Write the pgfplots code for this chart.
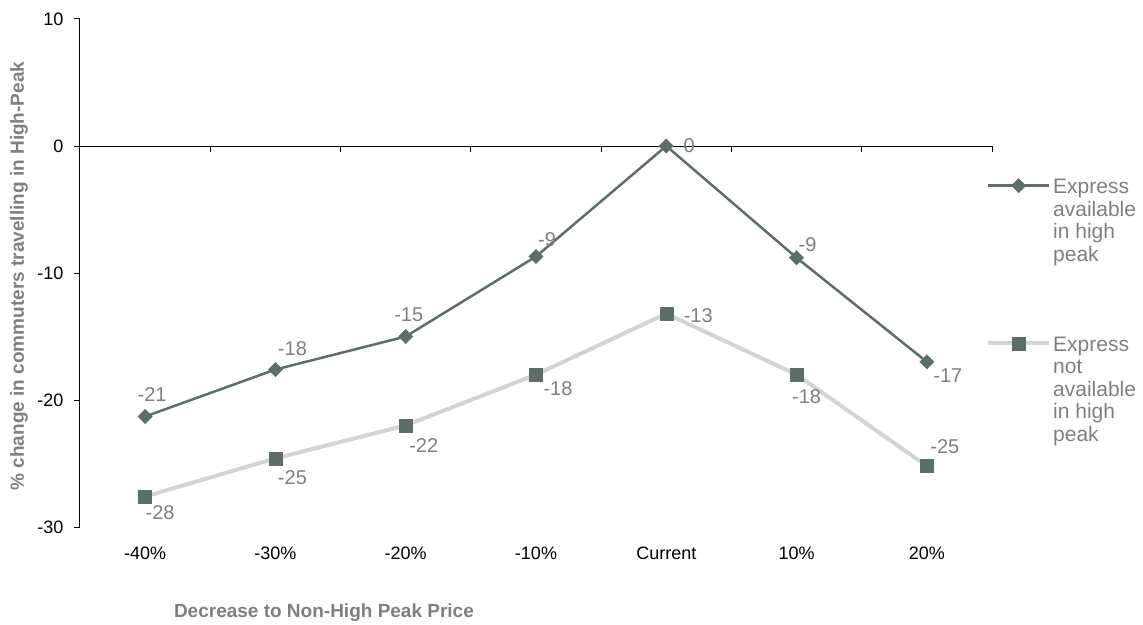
\documentclass[border=0pt]{standalone}
\usepackage{fontspec}
\setmainfont{Liberation Sans}
\usepackage{pgfplots}
\pgfplotsset{compat=1.18}
\usepackage{pgfplotstable}
\pgfplotsset{/pgf/number format/assume math mode=true}

\definecolor{darkline}{HTML}{5E6E66}
\definecolor{lightline}{HTML}{D2D5D3}
\definecolor{labelgray}{HTML}{7F7F7F}

% x = price scenario index, y = % change, dx/dy = label offset (pt)
\pgfplotstableread{
x y dx dy
0 -21.3 7 22
1 -17.6 17 21
2 -15.0 3 22
3 -8.7 11 17
4 0 23 0
5 -8.8 11 13
6 -17.0 21 -14
}\withexpress

\pgfplotstableread{
x y dx dy
0 -27.6 15 -16
1 -24.6 17 -19
2 -22.0 18 -20
3 -18.0 22 -14
4 -13.2 32 -2
5 -18.0 10 -22
6 -25.2 18 19
}\withoutexpress

\begin{document}
\begin{tikzpicture}
\begin{axis}[
  scale only axis, width=912pt, height=508pt,
  xmin=-0.5, xmax=6.5, ymin=-30, ymax=10,
  clip=false,
  axis y line*=left, axis x line*=bottom,
  x axis line style={draw=none},
  y axis line style={black, line width=1pt},
  xtick={0,...,6},
  xticklabels={-40\%,-30\%,-20\%,-10\%,Current,10\%,20\%},
  major x tick style={draw=none},
  ytick={-30,-20,-10,0,10},
  tick align=outside,
  major y tick style={black, line width=1pt},
  major tick length=6pt,
  xticklabel shift=10pt,
  yticklabel shift=7pt,
  tick label style={font=\fontsize{18}{21}\selectfont, text=black},
  ylabel={\% change in commuters travelling in High-Peak},
  ylabel style={font=\bfseries\fontsize{19}{22}\selectfont, text=labelgray,
    at={(axis description cs:-0.0669,0.494)}, anchor=center},
  xlabel={Decrease to Non-High Peak Price},
  xlabel style={font=\bfseries\fontsize{19}{22}\selectfont, text=labelgray,
    at={(axis description cs:0.2675,-0.1693)}, anchor=center},
  legend style={draw=none, fill=none, inner sep=0pt,
    at={(axis description cs:0.9934,0.689)}, anchor=north west,
    row sep=70pt, column sep=0pt,
    cells={anchor=north west, align=left, text=labelgray,
      font=\fontsize{21}{22.5}\selectfont}},
  legend image code/.code={\draw[#1, mark repeat=2, mark phase=2]
    plot coordinates {(0pt,-8.5pt) (30.5pt,-8.5pt) (61pt,-8.5pt)};},
  nodes near coords={\pgfmathprintnumber[fixed,precision=0]{\pgfplotspointmeta}},
  point meta=y,
]

% zero line with category separators
\draw[black, line width=1pt] (axis cs:-0.5,0) -- (axis cs:6.5,0);
\pgfplotsinvokeforeach{0.5,1.5,2.5,3.5,4.5,5.5,6.5}{
  \draw[black, line width=1pt] (axis cs:#1,0) -- ++(0pt,-6pt);
}

\addplot[darkline, line width=2.5pt, mark=square*,
  mark options={rotate=45, fill=darkline, draw=darkline, line width=0.5pt},
  mark size=5pt,
  visualization depends on={\thisrow{dx} \as \dx},
  visualization depends on={\thisrow{dy} \as \dy},
  every node near coord/.append style={font=\fontsize{20}{24}\selectfont,
    text=labelgray, anchor=center, xshift=\dx pt, yshift=\dy pt},
] table[x=x, y=y] {\withexpress};
\addlegendentry{Express\\available\\in high\\peak}

\addplot[lightline, line width=4pt, mark=square*,
  mark options={fill=darkline, draw=darkline, line width=0.5pt},
  mark size=6.5pt,
  visualization depends on={\thisrow{dx} \as \dx},
  visualization depends on={\thisrow{dy} \as \dy},
  every node near coord/.append style={font=\fontsize{20}{24}\selectfont,
    text=labelgray, anchor=center, xshift=\dx pt, yshift=\dy pt},
] table[x=x, y=y] {\withoutexpress};
\addlegendentry{Express\\not\\available\\in high\\peak}

\end{axis}
\pgfresetboundingbox
\path[use as bounding box] (-80pt,-97pt) rectangle (1063pt,527pt);
\end{tikzpicture}
\end{document}
